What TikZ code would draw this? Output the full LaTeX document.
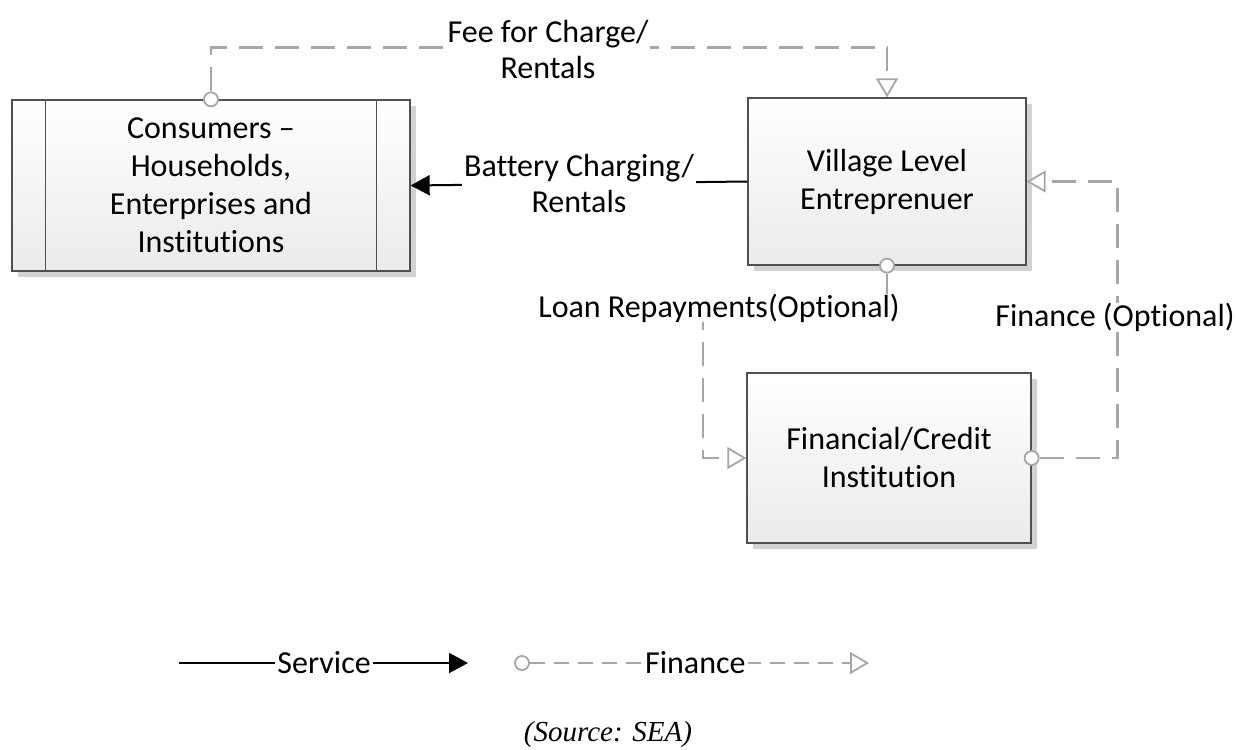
\documentclass[tikz,border=0pt]{standalone}
\usepackage{fontspec}
\setmainfont{Carlito}[Ligatures=NoCommon]
\newfontfamily\captionfont{Liberation Serif}
\usetikzlibrary{arrows.meta,calc,shadows}

\definecolor{boxline}{HTML}{505050}
\definecolor{flowgray}{HTML}{A6A6A6}
\definecolor{shadowgray}{HTML}{D2D2D2}

\tikzset{
  entity/.style={draw=boxline, line width=1.3pt, top color=white, bottom color=black!8,
    align=center, inner sep=0pt, font=\fontsize{32}{38}\selectfont,
    drop shadow={shadow xshift=6pt, shadow yshift=-6pt, fill=shadowgray, opacity=1}},
  port/.style={circle, draw=flowgray, fill=white, line width=1.8pt, minimum size=14pt, inner sep=0pt},
  flow/.style={draw=flowgray, line width=2.2pt, dash pattern=on 24pt off 12pt,
    -{Triangle[length=19pt, width=22pt, fill=white, line width=1.8pt]}},
  legendflow/.style={flow, dash pattern=on 15pt off 9pt},
  service/.style={draw=black, line width=2pt, -{Triangle[length=19pt, width=20pt]}},
  flowlabel/.style={fill=white, align=center, inner xsep=2pt, inner ysep=0pt,
    font=\fontsize{32}{36}\selectfont},
}

\begin{document}
\begin{tikzpicture}[x=1pt, y=-1pt]
  \useasboundingbox (0,0) rectangle (1238,749);

  % parties
  \node[entity, minimum width=398pt, minimum height=171pt] (cons) at (211,185.5)
    {Consumers --\\Households,\\Enterprises and\\Institutions};
  \draw[boxline, line width=1.3pt] ($(cons.north west)+(34,0)$) -- ($(cons.south west)+(34,0)$);
  \draw[boxline, line width=1.3pt] ($(cons.north east)+(-34,0)$) -- ($(cons.south east)+(-34,0)$);

  \node[entity, minimum width=278pt, minimum height=167pt] (vle) at (887,181.5)
    {Village Level\\Entreprenuer};

  \node[entity, minimum width=284pt, minimum height=170pt] (fin) at (889,458)
    {Financial/Credit\\Institution};

  % connection points of the finance flows
  \node[port] (p1) at (cons.north) {};
  \node[port] (p2) at (vle.south) {};
  \node[port] (p3) at (fin.east) {};

  % fee for charge / rentals
  \draw[flow] (p1.north) -- ++(0,-44) -| (vle.north);
  \node[flowlabel] (feelbl) at (548,50) {Fee for Charge/\\Rentals};

  % service
  \draw[service] (vle.west) -- (cons.east)
    node[flowlabel, midway] (svclbl) {Battery Charging/\\Rentals};

  % loan repayments
  \draw[flow] (p2.south) -- ++(0,36) -| ([xshift=-43pt]fin.west) -- (fin.west);
  \node[flowlabel] (loanlbl) at (719,308) {Loan Repayments(Optional)};

  % finance
  \draw[flow] (p3.east) -- ++(78,0) |- (vle.east);
  \node[flowlabel] (finlbl) at (1115,317) {Finance (Optional)};

  % legend
  \coordinate (lgsA) at (179,663);
  \coordinate (lgsB) at (468,663);
  \draw[service] (lgsA) -- (lgsB) node[flowlabel, pos=0.502] (lgsvc) {Service};
  \node[port] (lgport) at (522,663) {};
  \coordinate (lgfB) at (869,663);
  \draw[legendflow] (lgport.east) -- (lgfB) node[flowlabel, pos=0.488] (lgfin) {Finance};

  % source note
  \node[font=\captionfont\itshape\fontsize{29}{34}\selectfont] (src) at (608,735) {(Source: SEA)};
\end{tikzpicture}
\end{document}
